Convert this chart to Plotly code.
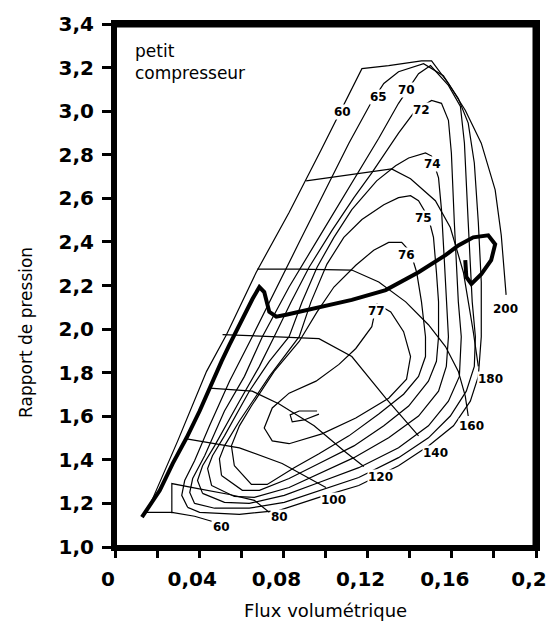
import plotly.graph_objects as go

# ---------------- data (flux volumétrique, rapport de pression) ----------------
# Heavy line
ligne_flux = [0.0128, 0.0213, 0.0274, 0.0340, 0.0402, 0.0463, 0.0506, 0.0544, 0.0605, 0.0653,
              0.0686, 0.0709, 0.0733, 0.0766, 0.0813, 0.0908, 0.1017, 0.1125, 0.1286, 0.1442,
              0.1570, 0.1631, 0.1702, 0.1773, 0.1806, 0.1787, 0.1740, 0.1693, 0.1669, 0.1664]
ligne_pr = [1.137, 1.260, 1.383, 1.501, 1.624, 1.761, 1.852, 1.929, 2.047, 2.138,
            2.193, 2.170, 2.079, 2.057, 2.066, 2.088, 2.111, 2.134, 2.179, 2.261,
            2.339, 2.384, 2.421, 2.430, 2.389, 2.316, 2.252, 2.207, 2.239, 2.316]

# Outer boundary contour (label 60)
eff60_flux = [0.0165, 0.0236, 0.0298, 0.0435, 0.0530, 0.0671, 0.0827, 0.0979, 0.1111, 0.1173,
              0.1300, 0.1456, 0.1504, 0.1584, 0.1664, 0.1740, 0.1806, 0.1835, 0.1858]
eff60_pr = [1.191, 1.351, 1.487, 1.806, 1.975, 2.261, 2.535, 2.822, 3.081, 3.195,
            3.209, 3.231, 3.231, 3.127, 3.004, 2.853, 2.639, 2.430, 2.157]

eff65_flux = [0.0345, 0.0317, 0.0331, 0.0378, 0.0449, 0.0544, 0.0652, 0.0756, 0.0875, 0.0993,
              0.1111, 0.1215, 0.1277, 0.1347, 0.1466, 0.1560, 0.1631, 0.1678, 0.1707, 0.1726,
              0.1740, 0.1740, 0.1726, 0.1688, 0.1608, 0.1489, 0.1347, 0.1158, 0.0969, 0.0780,
              0.0591, 0.0402, 0.0345]
eff65_pr = [1.182, 1.237, 1.305, 1.396, 1.556, 1.761, 1.965, 2.170, 2.398, 2.626,
            2.853, 3.036, 3.127, 3.181, 3.218, 3.163, 3.058, 2.945, 2.762, 2.489,
            2.216, 1.965, 1.783, 1.669, 1.556, 1.464, 1.373, 1.282, 1.228, 1.168,
            1.150, 1.159, 1.182]

eff70_flux = [0.0378, 0.0355, 0.0369, 0.0426, 0.0520, 0.0615, 0.0700, 0.0827, 0.0969, 0.1111,
              0.1253, 0.1347, 0.1395, 0.1442, 0.1499, 0.1584, 0.1641, 0.1660, 0.1678, 0.1697,
              0.1712, 0.1707, 0.1669, 0.1593, 0.1489, 0.1347, 0.1158, 0.0969, 0.0804, 0.0638,
              0.0473, 0.0378]
eff70_pr = [1.200, 1.250, 1.314, 1.419, 1.624, 1.783, 1.965, 2.193, 2.421, 2.649,
            2.876, 3.036, 3.104, 3.172, 3.209, 3.118, 3.022, 2.853, 2.489, 2.125,
            1.965, 1.829, 1.715, 1.601, 1.501, 1.410, 1.319, 1.260, 1.205, 1.178,
            1.178, 1.200]

eff72_flux = [0.0416, 0.0392, 0.0416, 0.0473, 0.0591, 0.0686, 0.0756, 0.0837, 0.0922, 0.1031,
              0.1135, 0.1220, 0.1347, 0.1428, 0.1504, 0.1551, 0.1584, 0.1598, 0.1612, 0.1631,
              0.1645, 0.1636, 0.1584, 0.1489, 0.1347, 0.1158, 0.0969, 0.0804, 0.0638, 0.0520,
              0.0416]
eff72_pr = [1.246, 1.305, 1.373, 1.464, 1.669, 1.829, 1.965, 2.125, 2.284, 2.453,
            2.603, 2.717, 2.899, 3.004, 3.049, 3.036, 2.958, 2.808, 2.489, 2.125,
            1.965, 1.783, 1.669, 1.556, 1.455, 1.364, 1.296, 1.237, 1.200, 1.205,
            1.246]

eff74_flux = [0.0459, 0.0440, 0.0463, 0.0520, 0.0638, 0.0733, 0.0827, 0.0889, 0.0960, 0.1040,
              0.1125, 0.1243, 0.1333, 0.1395, 0.1475, 0.1504, 0.1537, 0.1551, 0.1565, 0.1584,
              0.1574, 0.1537, 0.1442, 0.1300, 0.1135, 0.0969, 0.0827, 0.0662, 0.0567, 0.0459]
eff74_pr = [1.282, 1.360, 1.419, 1.510, 1.715, 1.852, 1.965, 2.125, 2.284, 2.421,
            2.548, 2.680, 2.749, 2.785, 2.808, 2.794, 2.694, 2.548, 2.307, 1.965,
            1.829, 1.715, 1.601, 1.501, 1.410, 1.337, 1.273, 1.228, 1.232, 1.282]

eff75_flux = [0.0506, 0.0496, 0.0520, 0.0591, 0.0733, 0.0875, 0.0931, 0.1007, 0.1087, 0.1173,
              0.1277, 0.1347, 0.1404, 0.1442, 0.1489, 0.1513, 0.1527, 0.1537, 0.1537, 0.1527,
              0.1489, 0.1395, 0.1277, 0.1135, 0.0969, 0.0827, 0.0686, 0.0605, 0.0506]
eff75_pr = [1.328, 1.405, 1.464, 1.578, 1.783, 1.965, 2.125, 2.298, 2.421, 2.503,
            2.571, 2.603, 2.612, 2.589, 2.512, 2.421, 2.261, 2.125, 1.965, 1.852,
            1.761, 1.647, 1.556, 1.464, 1.383, 1.314, 1.260, 1.260, 1.328]

eff76_flux = [0.0567, 0.0553, 0.0591, 0.0648, 0.0756, 0.0875, 0.0960, 0.1040, 0.1144, 0.1229,
              0.1300, 0.1362, 0.1404, 0.1433, 0.1456, 0.1475, 0.1475, 0.1442, 0.1371, 0.1253,
              0.1111, 0.0969, 0.0851, 0.0723, 0.0648, 0.0567]
eff76_pr = [1.373, 1.464, 1.556, 1.647, 1.806, 1.943, 2.079, 2.193, 2.293, 2.362,
            2.398, 2.398, 2.353, 2.261, 2.125, 1.965, 1.874, 1.783, 1.701, 1.610,
            1.510, 1.428, 1.364, 1.287, 1.287, 1.373]

eff77_flux = [0.1243, 0.1220, 0.1144, 0.1064, 0.0955, 0.0827, 0.0747, 0.0709, 0.0747, 0.0827,
              0.0983, 0.1144, 0.1300, 0.1385, 0.1404, 0.1371, 0.1310, 0.1243]
eff77_pr = [2.116, 2.011, 1.911, 1.838, 1.761, 1.706, 1.638, 1.546, 1.487, 1.474,
            1.519, 1.592, 1.683, 1.770, 1.874, 1.988, 2.079, 2.116]

eff78_flux = [0.0960, 0.0875, 0.0832, 0.0842, 0.0898, 0.0969]
eff78_pr = [1.624, 1.624, 1.606, 1.574, 1.583, 1.610]

# Speed lines
v60_flux = [0.0151, 0.0270, 0.0378, 0.0459]
v60_pr = [1.159, 1.159, 1.141, 1.118]
v80_flux = [0.0270, 0.0270, 0.0388, 0.0544, 0.0662, 0.0733]
v80_pr = [1.155, 1.291, 1.269, 1.241, 1.214, 1.159]
v100_flux = [0.0340, 0.0591, 0.0794, 0.1002]
v100_pr = [1.496, 1.455, 1.383, 1.273]
v120_flux = [0.0449, 0.0652, 0.0780, 0.0946, 0.1087, 0.1182]
v120_pr = [1.729, 1.715, 1.656, 1.556, 1.442, 1.369]
v140_flux = [0.0511, 0.0733, 0.0969, 0.1125, 0.1286, 0.1442]
v140_pr = [1.975, 1.965, 1.956, 1.874, 1.683, 1.510]
v160_flux = [0.0676, 0.0875, 0.1125, 0.1253, 0.1381, 0.1489, 0.1570, 0.1631, 0.1664, 0.1678]
v160_pr = [2.275, 2.275, 2.271, 2.216, 2.125, 2.020, 1.920, 1.806, 1.692, 1.601]
v180_flux = [0.0908, 0.1111, 0.1314, 0.1404, 0.1522, 0.1593, 0.1655, 0.1702, 0.1726]
v180_pr = [2.680, 2.708, 2.735, 2.690, 2.589, 2.466, 2.261, 1.988, 1.829]

# Labels
speed_labels = ["60", "80", "100", "120", "140", "160", "180", "200"]
speed_label_flux = [0.0506, 0.0780, 0.1040, 0.1262, 0.1522, 0.1693, 0.1782, 0.1853]
speed_label_pr = [1.091, 1.137, 1.215, 1.323, 1.433, 1.556, 1.770, 2.093]

eff_labels = ["60", "65", "70", "72", "74", "75", "76", "77"]
eff_label_flux = [0.1083, 0.1253, 0.1386, 0.1456, 0.1508, 0.1466, 0.1386, 0.1243]
eff_label_pr = [2.995, 3.063, 3.095, 3.004, 2.758, 2.512, 2.339, 2.084]

x_range = [0, 0.2]
y_range = [1.0, 3.4]
x_tickvals = [0, 0.02, 0.04, 0.06, 0.08, 0.10, 0.12, 0.14, 0.16, 0.18, 0.2]
x_ticktext = ["0", "", "0,04", "", "0,08", "", "0,12", "", "0,16", "", "0,2"]
y_tickvals = [1.0, 1.2, 1.4, 1.6, 1.8, 2.0, 2.2, 2.4, 2.6, 2.8, 3.0, 3.2, 3.4]
y_ticktext = ["1,0", "1,2", "1,4", "1,6", "1,8", "2,0", "2,2", "2,4", "2,6", "2,8", "3,0", "3,2", "3,4"]

# ---------------- figure ----------------
fig = go.Figure()

thin = dict(color="black", width=1.2)
contours = [(eff60_flux, eff60_pr), (eff65_flux, eff65_pr), (eff70_flux, eff70_pr),
            (eff72_flux, eff72_pr), (eff74_flux, eff74_pr), (eff75_flux, eff75_pr),
            (eff76_flux, eff76_pr), (eff77_flux, eff77_pr), (eff78_flux, eff78_pr)]
for fx, fy in contours:
    fig.add_trace(go.Scatter(x=fx, y=fy, mode="lines", line=thin, hoverinfo="skip"))

speeds = [(v60_flux, v60_pr), (v80_flux, v80_pr), (v100_flux, v100_pr), (v120_flux, v120_pr),
          (v140_flux, v140_pr), (v160_flux, v160_pr), (v180_flux, v180_pr)]
for fx, fy in speeds:
    fig.add_trace(go.Scatter(x=fx, y=fy, mode="lines", line=thin, hoverinfo="skip"))

fig.add_trace(go.Scatter(x=ligne_flux, y=ligne_pr, mode="lines",
                         line=dict(color="black", width=4), hoverinfo="skip"))

# frame along the top and right edges of the axis range
fig.add_trace(go.Scatter(x=[x_range[0], x_range[1], x_range[1]],
                         y=[y_range[1], y_range[1], y_range[0]],
                         mode="lines", line=dict(color="black", width=7),
                         hoverinfo="skip", cliponaxis=False))

lab_font = dict(family="DejaVu Sans", size=12, color="black", weight="bold")
for t, fx, fy in zip(speed_labels, speed_label_flux, speed_label_pr):
    fig.add_annotation(x=fx, y=fy, text=t, showarrow=False, font=lab_font,
                       bgcolor="white", borderpad=0)
for t, fx, fy in zip(eff_labels, eff_label_flux, eff_label_pr):
    fig.add_annotation(x=fx, y=fy, text=t, showarrow=False, font=lab_font,
                       bgcolor="white", borderpad=0)

fig.add_annotation(xref="paper", yref="paper", x=0.042, y=0.972, xanchor="left", yanchor="top",
                   text="petit<br>compresseur", showarrow=False, align="left",
                   font=dict(family="DejaVu Sans", size=17, color="black"))
fig.add_annotation(xref="paper", yref="paper", x=-0.213, y=0.41, xanchor="center",
                   yanchor="middle", textangle=-90,
                   text="Rapport de pression", showarrow=False,
                   font=dict(family="DejaVu Sans", size=17, color="black"))
fig.add_annotation(xref="paper", yref="paper", x=0.501, y=-0.121, xanchor="center",
                   yanchor="middle",
                   text="Flux volumétrique", showarrow=False,
                   font=dict(family="DejaVu Sans", size=18, color="black"))

fig.add_shape(type="rect", xref="paper", yref="paper", x0=0, y0=0, x1=1, y1=1,
              line=dict(color="black", width=4))

tick_font = dict(family="DejaVu Sans", size=20, color="black", weight="bold")
fig.update_xaxes(range=x_range, tickvals=x_tickvals, ticktext=x_ticktext,
                 ticks="outside", ticklen=7, tickwidth=3, tickcolor="black",
                 showline=True, linewidth=4, linecolor="black", mirror=True,
                 showgrid=False, zeroline=False, tickfont=tick_font,
                 ticklabelstandoff=4, ticklabelshift=-7)
fig.update_yaxes(range=y_range, tickvals=y_tickvals, ticktext=y_ticktext,
                 ticks="outside", ticklen=9, tickwidth=3, tickcolor="black",
                 showline=True, linewidth=4, linecolor="black", mirror=True,
                 showgrid=False, zeroline=False, tickfont=tick_font,
                 ticklabelstandoff=4)

fig.update_layout(width=559, height=626, showlegend=False,
                  margin=dict(l=115, r=21, t=20, b=79),
                  paper_bgcolor="white", plot_bgcolor="white")

fig.write_html("out.html")
